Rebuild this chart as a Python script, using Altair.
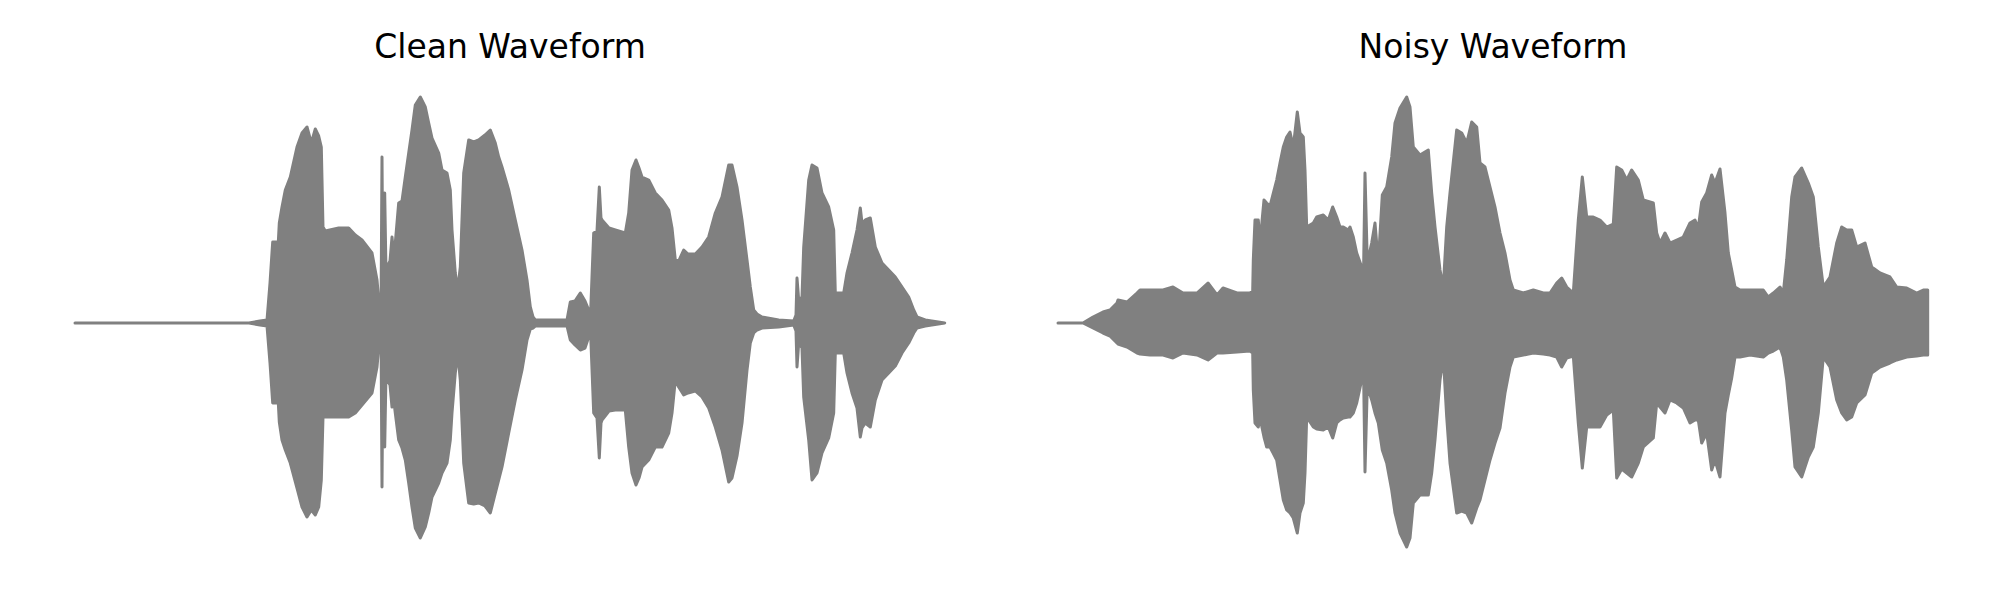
import altair as alt
import pandas as pd

# Envelope of each waveform.
# t: position along the clip (arbitrary time units, 0..870), hi/lo: upper/lower amplitude.
clean_t = [0, 174, 185, 192, 195, 197.7, 203.3, 204.3, 207, 210.3, 215.3, 222, 227, 232, 236.3,
           240.3, 243.7, 246.3, 248, 250.3, 263.7, 273.7, 280.3, 287, 297, 302, 304.3, 306, 307,
           308, 309.7, 311, 312, 315, 317, 318.5, 320.3, 323.7, 327, 330.3, 333.7, 337, 340.3,
           345.3, 350.3, 353.7, 357, 363.7, 367, 372, 375.3, 377, 380.3, 382.7, 385.3, 388.7,
           393.7, 398.7, 403.7, 410, 415.3, 420.3, 423.7, 427, 433.7, 440.3, 447, 452, 455.3,
           458, 460.3, 492, 495.3, 500, 505.3, 510, 513.7, 515.3, 518.7, 522, 524.3, 526, 527,
           534, 540.3, 550.3, 553.7, 557, 561, 564, 567, 573.7, 580.3, 587, 593.7, 597, 600.3,
           603.7, 608.7, 613, 620.3, 627, 633.7, 640.3, 647, 653.7, 657, 662, 667, 672, 675.3,
           678.7, 682, 687, 703.7, 718.7, 721, 722, 723.7, 727, 728.7, 733.7, 737, 742, 747,
           753.7, 758.7, 760.3, 768.7, 772, 777, 782, 785.3, 787, 790.3, 795.3, 800.3, 807,
           813.7, 820.3, 827, 833.7, 838.7, 842, 850.3, 869.7]
clean_hi = [0, 0, 2, 3, 40, 81, 81, 100, 116, 133, 146, 176, 190, 196, 180,
            194, 187, 176, 96, 92, 95, 95, 88, 83, 70, 43, 16, 5, 166,
            20, 130, 50, 56, 62, 86, 70, 80, 120, 122, 146, 170, 193, 218,
            226, 216, 200, 185, 170, 153, 150, 133, 93, 50, 33, 56, 150,
            183, 181, 183, 188, 193, 180, 166, 156, 133, 103, 73, 43, 16,
            6, 3, 3, 21, 22, 30, 22, 13, 2, 90, 92, 136, 105, 103,
            95, 93, 90, 110, 153, 163, 155, 146, 143, 130, 123, 113, 95, 63,
            62, 73, 69, 69, 76, 86, 110, 126, 158, 158, 136, 103, 63, 36,
            13, 9, 6, 3, 2, 8, 45, 23, 26, 76, 143, 158, 155, 130,
            116, 93, 30, 30, 50, 70, 93, 115, 100, 103, 105, 76, 60,
            53, 46, 36, 26, 13, 6, 3, 0]
clean_lo = [0, 0, -2, -3, -40, -80, -80, -99, -117, -127, -140, -165, -184, -194, -187,
            -192, -184, -157, -94, -94, -94, -94, -90, -82, -70, -44, -17, -5, -164,
            -20, -124, -50, -57, -62, -84, -75, -90, -117, -125, -137, -160, -184, -205,
            -215, -204, -190, -174, -160, -150, -140, -117, -90, -50, -30, -57, -140,
            -180, -181, -180, -183, -190, -170, -157, -144, -110, -77, -47, -17, -6,
            -5, -3, -3, -17, -22, -27, -25, -14, -2, -90, -95, -135, -100, -97,
            -88, -87, -87, -124, -150, -162, -155, -144, -137, -124, -124, -110, -90, -57,
            -64, -72, -70, -68, -74, -85, -104, -127, -159, -155, -133, -100, -47, -20,
            -10, -7, -5, -4, -2, -8, -44, -20, -25, -74, -117, -157, -150, -130,
            -115, -90, -30, -30, -50, -70, -85, -114, -105, -100, -104, -77, -57,
            -50, -43, -30, -20, -10, -5, -3, 0]

noisy_t = [0, 25, 35, 45, 52, 59, 60, 69, 79, 82, 92, 105, 115, 125, 139, 150, 159, 165, 179,
           192, 194.7, 195.3, 197, 200.3, 202, 206, 208.7, 212, 218.7, 222, 225.3, 228.7, 232,
           235.3, 239.3, 242, 245.3, 247, 248.7, 255.3, 258.7, 265.3, 270.3, 274.7, 278.7, 282,
           285.3, 290.3, 292, 295.3, 298.7, 303.7, 305.3, 307, 309.3, 313.7, 317, 320.3, 324.3,
           328.7, 333.7, 337, 342, 348.7, 352, 355.3, 362, 370.3, 373.7, 377, 382, 385.3, 388.7,
           392, 398.7, 403.7, 408.7, 413.7, 418.7, 422, 427, 432, 437, 442, 447, 452, 455.3,
           465.3, 475.3, 485.3, 492, 498.7, 503.7, 508.7, 515.3, 520.3, 524.3, 528.7, 535.3,
           542, 548.7, 555.3, 558.7, 563.7, 568.7, 573.7, 580.3, 585.3, 595.3, 598.7, 602, 607,
           612, 618.7, 625.3, 632, 637, 640.3, 643.7, 648.7, 653.7, 657, 662, 667, 670.3, 673.7,
           677, 682, 692, 705.3, 710.3, 715.3, 722, 725.3, 728.7, 733.7, 737, 743.7, 750.3,
           755.3, 760.3, 765.3, 772, 778.7, 783.7, 788.7, 793.7, 798.7, 807, 813.7, 822, 832,
           838.7, 848.7, 858.7, 865.3, 869.7]
noisy_hi = [0, 0, 6, 11, 13, 20, 23, 21, 30, 33, 33, 33, 36, 30, 30, 40, 28, 35, 30,
            30, 32, 63, 103, 103, 80, 123, 120, 117, 143, 160, 176, 186, 191,
            176, 211, 190, 186, 153, 96, 100, 106, 108, 103, 116, 106, 96,
            96, 93, 96, 86, 70, 56, 33, 150, 60, 80, 100, 60, 128,
            136, 166, 200, 215, 226, 216, 176, 168, 173, 130, 96, 53, 36, 96,
            130, 193, 190, 180, 201, 196, 160, 156, 136, 116, 90, 70, 43, 33,
            30, 33, 30, 30, 40, 45, 36, 30, 103, 146, 106, 106,
            103, 96, 99, 156, 153, 143, 153, 143, 123, 120, 90, 80, 90,
            80, 83, 86, 100, 103, 95, 121, 130, 148, 140, 154, 110, 70, 53,
            36, 33, 33, 33, 26, 30, 36, 30, 63, 126, 146, 155, 140,
            126, 76, 36, 46, 80, 96, 93, 93, 76, 80, 56, 50, 46,
            36, 35, 30, 33, 33]
noisy_lo = [0, 0, -5, -10, -13, -20, -21, -24, -30, -31, -32, -32, -35, -30, -32, -37, -30, -30, -29,
            -28, -30, -67, -100, -104, -95, -114, -124, -124, -137, -157, -177, -187, -190,
            -195, -210, -190, -180, -150, -94, -104, -106, -107, -104, -115, -100, -97,
            -95, -94, -94, -90, -80, -57, -30, -149, -63, -77, -90, -100, -127,
            -140, -167, -190, -210, -224, -215, -180, -172, -172, -150, -117, -57, -34, -94,
            -140, -190, -188, -190, -200, -185, -177, -157, -137, -120, -105, -70, -44, -34,
            -32, -30, -31, -32, -34, -44, -35, -33, -100, -145, -104, -104,
            -104, -92, -87, -155, -146, -150, -154, -140, -124, -115, -80, -84, -90,
            -77, -80, -85, -100, -97, -97, -120, -110, -147, -137, -154, -90, -72, -55,
            -34, -34, -32, -34, -30, -28, -24, -34, -57, -107, -144, -154, -134,
            -124, -90, -34, -44, -77, -90, -97, -94, -80, -72, -50, -44, -40,
            -37, -34, -33, -32, -32]

titles = ["Clean Waveform", "Noisy Waveform"]
WAVE_COLOR = "#808080"


def panel(t, hi, lo, title):
    df = pd.DataFrame({"t": t, "hi": hi, "lo": lo})
    return (
        alt.Chart(
            df,
            title=alt.TitleParams(
                title, fontSize=33, font="DejaVu Sans", fontWeight="normal",
                color="black", offset=15, anchor="middle",
            ),
        )
        .mark_area(color=WAVE_COLOR, stroke=WAVE_COLOR, strokeWidth=3,
                   strokeJoin="round", opacity=1)
        .encode(
            x=alt.X("t:Q", scale=alt.Scale(domain=[0, 870], nice=False, zero=False), axis=None),
            y=alt.Y("hi:Q", scale=alt.Scale(domain=[-237, 243], nice=False), axis=None),
            y2="lo:Q",
        )
        .properties(width=870, height=480)
    )


chart = (
    alt.hconcat(
        panel(clean_t, clean_hi, clean_lo, titles[0]),
        panel(noisy_t, noisy_hi, noisy_lo, titles[1]),
        spacing=109,
    )
    .properties(padding={"left": 65, "top": 24, "right": 0, "bottom": 0})
    .configure_view(strokeWidth=0)
)

chart.save("out.html", embed_options={"renderer": "svg", "actions": False})
